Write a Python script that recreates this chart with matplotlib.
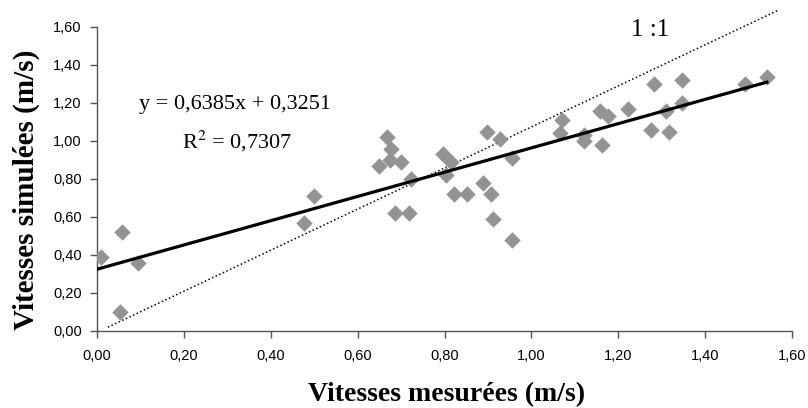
import matplotlib
matplotlib.use("Agg")
import matplotlib.pyplot as plt
from matplotlib.ticker import FuncFormatter, MultipleLocator
import numpy as np

# measured vs simulated velocities (m/s)
mesurees = [0.01, 0.057, 0.053, 0.095, 0.476, 0.50, 0.65, 0.668, 0.676, 0.674,
            0.70, 0.722, 0.686, 0.719, 0.797, 0.814, 0.803, 0.823, 0.852, 0.889,
            0.908, 0.911, 0.897, 0.928, 0.955, 0.955, 1.07, 1.066, 1.12, 1.12,
            1.162, 1.158, 1.176, 1.223, 1.283, 1.346, 1.311, 1.346, 1.275, 1.317,
            1.492, 1.542]
simulees = [0.39, 0.52, 0.10, 0.36, 0.57, 0.71, 0.87, 1.02, 0.96, 0.90,
            0.89, 0.80, 0.62, 0.62, 0.93, 0.89, 0.82, 0.72, 0.72, 0.78,
            0.72, 0.59, 1.05, 1.01, 0.91, 0.48, 1.11, 1.04, 1.03, 1.00,
            0.98, 1.16, 1.13, 1.17, 1.30, 1.32, 1.16, 1.20, 1.06, 1.05,
            1.30, 1.335]

pente = 0.6385
ordonnee = 0.3251
r2 = 0.7307

# hand-drawn "1:1" guide as it appears on the chart
ligne_x = [0.025, 1.57]
ligne_y = [0.02, 1.69]

plt.rcParams["mathtext.fontset"] = "stix"

fig = plt.figure(figsize=(8.08, 4.08), dpi=100)
ax = fig.add_axes([97 / 808, 77 / 408, 695 / 808, 304 / 408])

ax.scatter(mesurees, simulees, marker="D", s=70, color="#939393", linewidths=0, zorder=3)

xr = np.array([0.0, max(mesurees)])
ax.plot(xr, pente * xr + ordonnee, color="black", lw=2.3, zorder=4)
ax.plot(ligne_x, ligne_y, color="black", lw=1.1, ls=(0, (1, 1.6)), clip_on=False, zorder=2)

ax.set_xlim(0, 1.6)
ax.set_ylim(0, 1.6)
ax.xaxis.set_major_locator(MultipleLocator(0.2))
ax.yaxis.set_major_locator(MultipleLocator(0.2))
virgule = FuncFormatter(lambda v, p: f"{v:.2f}".replace(".", ","))
ax.xaxis.set_major_formatter(virgule)
ax.yaxis.set_major_formatter(virgule)

for s in ["top", "right"]:
    ax.spines[s].set_visible(False)
for s in ["left", "bottom"]:
    ax.spines[s].set_color("#555555")
    ax.spines[s].set_linewidth(1.0)
ax.tick_params(direction="out", length=5, width=1, color="#555555", labelsize=10.5)
ax.tick_params(axis="x", pad=8)
ax.tick_params(axis="y", pad=6)
for lab in ax.get_xticklabels() + ax.get_yticklabels():
    lab.set_family("Liberation Sans")

ax.set_xlabel("Vitesses mesurées (m/s)", family="Liberation Serif",
              fontweight="bold", fontsize=20)
ax.set_ylabel("Vitesses simulées (m/s)", family="Liberation Serif",
              fontweight="bold", fontsize=21)
ax.xaxis.set_label_coords((447 - 97) / 695, -(382 - 331) / 304)
ax.yaxis.set_label_coords(-(97 - 40) / 695, (331 - 190) / 304)

ax.text(0.318, 1.19, f"y = {pente:.4f}x + {ordonnee:.4f}".replace(".", ","),
        family="Liberation Serif", fontsize=16, ha="center", va="center")
ax.text(0.322, 1.0, "R$^{2}$ = " + f"{r2:.4f}".replace(".", ","),
        family="Liberation Serif", fontsize=16, ha="center", va="center")
ax.text(1.273, 1.585, "1 :1", family="Liberation Serif", fontsize=18,
        ha="center", va="center")

fig.savefig("out.png", dpi=100)
